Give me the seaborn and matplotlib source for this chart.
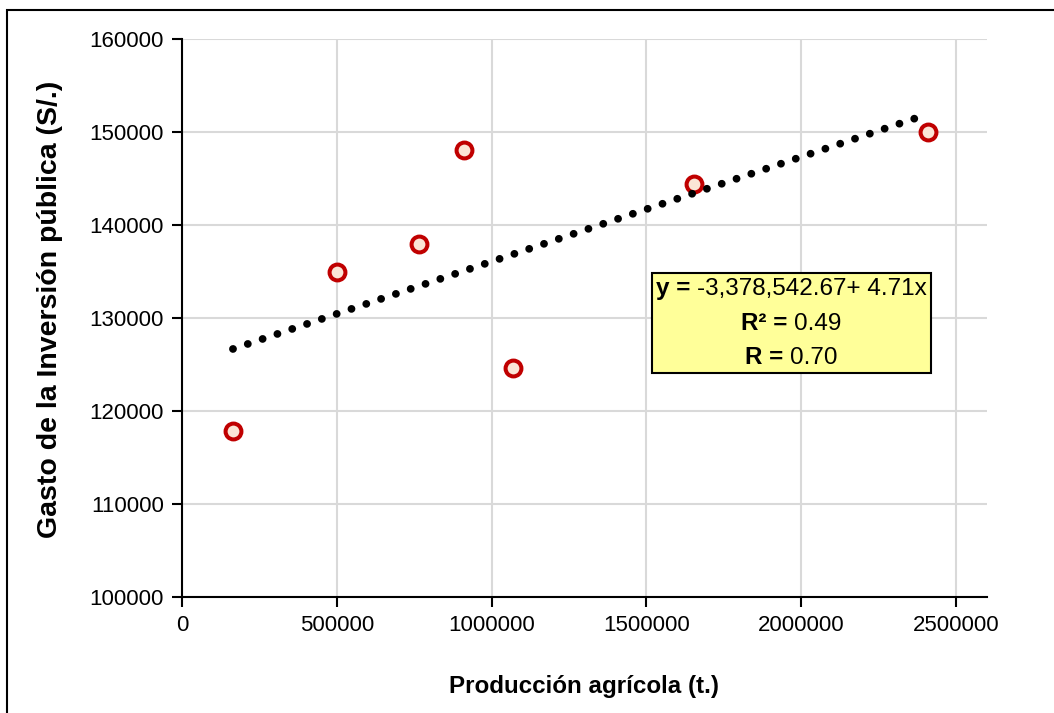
import matplotlib
matplotlib.use("Agg")
import matplotlib.pyplot as plt
import seaborn as sns
import pandas as pd
from matplotlib.offsetbox import TextArea, HPacker, VPacker, AnnotationBbox
from matplotlib.patches import Rectangle

# values
produccion = [164500, 500000, 764500, 909700, 1067700, 1654800, 2409700]
gasto = [117800, 134900, 138000, 148100, 124600, 144400, 150000]
x_ticks = [0, 500000, 1000000, 1500000, 2000000, 2500000]
y_ticks = [100000, 110000, 120000, 130000, 140000, 150000, 160000]
eq_lines = [("y = ", "-3,378,542.67+ 4.71x"), ("R\u00b2 = ", "0.49"), ("R = ", "0.70")]

df = pd.DataFrame({"x": produccion, "y": gasto})

sns.set_style("white")
plt.rcParams["font.family"] = ["Liberation Sans", "DejaVu Sans"]
plt.rcParams["text.color"] = "black"
plt.rcParams["axes.labelcolor"] = "black"
plt.rcParams["xtick.color"] = "black"
plt.rcParams["ytick.color"] = "black"

fig = plt.figure(figsize=(10.54, 7.13), dpi=100)
ax = fig.add_axes([0.1727, 0.1627, 0.7637, 0.7826])

sns.scatterplot(data=df, x="x", y="y", ax=ax, s=130, color="#FBE5D6",
                edgecolor="#C00000", linewidth=2.9, zorder=3, legend=False)
# dotted trend line, drawn over the markers as in the original
sns.regplot(data=df, x="x", y="y", ax=ax, scatter=False, ci=None,
            line_kws=dict(color="black", lw=5.6, linestyle=(0, (0.01, 2.0)),
                          dash_capstyle="round", zorder=4))

ax.set_xlim(0, 2600000)
ax.set_ylim(100000, 160000)
ax.set_xticks(x_ticks)
ax.set_xticklabels([str(v) for v in x_ticks])
ax.set_yticks(y_ticks)
ax.set_yticklabels([str(v) for v in y_ticks])
ax.grid(True, color="#D9D9D9", lw=1.5)
ax.set_axisbelow(True)
for s in ["top", "right"]:
    ax.spines[s].set_visible(False)
for s in ["left", "bottom"]:
    ax.spines[s].set_color("black")
    ax.spines[s].set_linewidth(1.5)
ax.tick_params(axis="both", direction="out", length=7, width=1.5, color="black",
               labelsize=16, pad=6, left=True, bottom=True)
ax.set_xlabel("Producción agrícola (t.)", fontsize=17.4, fontweight="bold")
ax.set_ylabel("Gasto de la Inversión pública (S/.)", fontsize=20.5, fontweight="bold")
ax.xaxis.set_label_coords(0.5, -0.140)
ax.yaxis.set_label_coords(-0.148, 0.515)

rows = []
for b, r in eq_lines:
    rows.append(HPacker(children=[
        TextArea(b, textprops=dict(fontsize=17.5, fontweight="bold")),
        TextArea(r, textprops=dict(fontsize=17.5))], align="baseline", pad=0, sep=0))
box = VPacker(children=rows, align="center", pad=0, sep=8)
ab = AnnotationBbox(box, (1967700, 129460), xycoords="data", frameon=True, pad=0.3,
                    bboxprops=dict(facecolor="#FFFF99", edgecolor="black", lw=1.5),
                    zorder=5)
ax.add_artist(ab)

# outer frame of the chart
fig.patches.append(Rectangle((7 / 1054, -0.01), 1.0, 1 - 10 / 713 + 0.01,
                             transform=fig.transFigure, fill=False,
                             edgecolor="black", lw=1.5))

fig.savefig("out.png", dpi=100)
